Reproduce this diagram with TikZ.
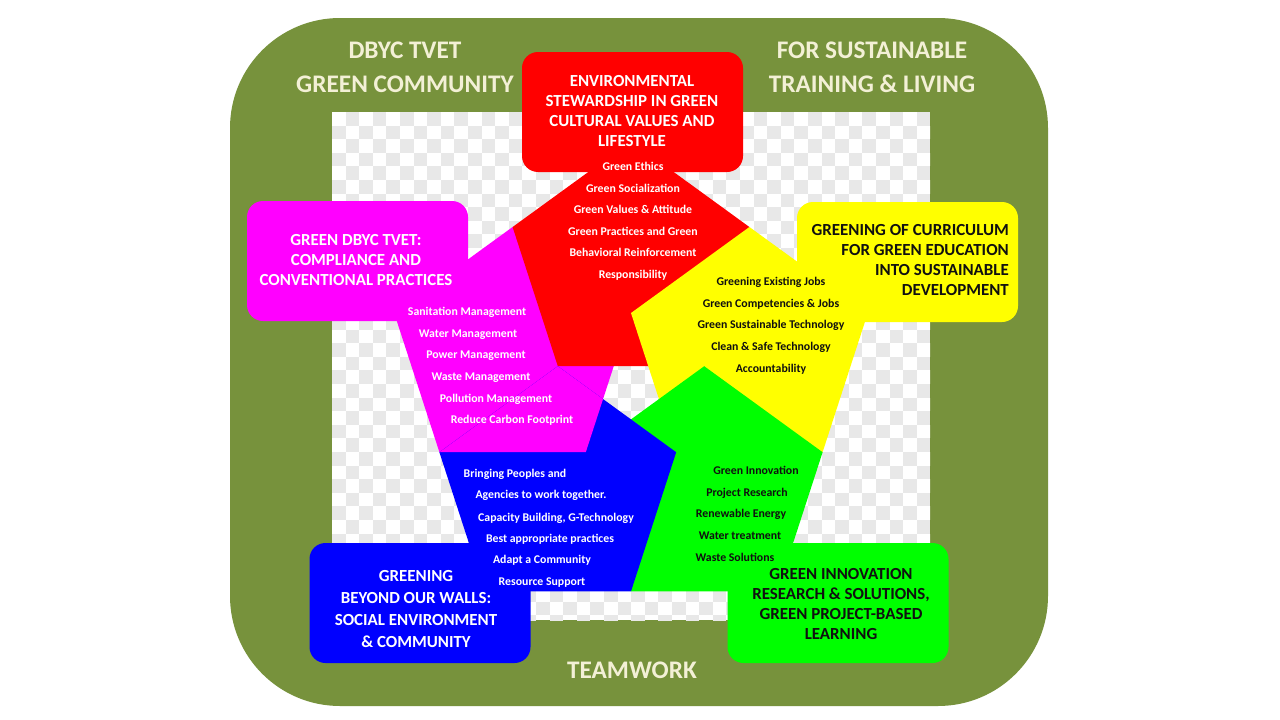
\documentclass[tikz,border=0pt]{standalone}
\usepackage{fontspec}
\setmainfont{Carlito}
\usetikzlibrary{calc}
\definecolor{bgolive}{HTML}{77923C}
\definecolor{cream}{HTML}{F3F0D6}
\definecolor{chkgray}{HTML}{E8E8E8}
\definecolor{pred}{HTML}{FF0000}
\definecolor{pyellow}{HTML}{FFFF00}
\definecolor{pgreen}{HTML}{00FF00}
\definecolor{pblue}{HTML}{0000FF}
\definecolor{pmagenta}{HTML}{FF00FF}
\definecolor{darktext}{HTML}{101010}
\newcommand\pentpath[1]{($(#1)+(-90:124.5)$) -- ($(#1)+(-18:124.5)$) -- ($(#1)+(54:124.5)$) -- ($(#1)+(126:124.5)$) -- ($(#1)+(198:124.5)$) -- cycle}
\begin{document}
\begin{tikzpicture}[x=1pt,y=-1pt,
  hdrbox/.style={rectangle, rounded corners=16pt, draw=none, minimum width=221pt, minimum height=120pt, inner sep=0pt},
  hdrtxt/.style={font=\fontsize{16.9}{20}\selectfont\bfseries, align=center, inner sep=0pt},
  titletxt/.style={font=\fontsize{25.3}{34}\selectfont\bfseries, align=center, inner sep=0pt, text=cream},
  lst/.style={font=\fontsize{11.8}{14}\selectfont\bfseries, inner sep=0pt, anchor=base}]
\useasboundingbox (0,0) rectangle (1280,720);
\fill[white] (0,0) rectangle (1280,720);
% olive frame
\fill[bgolive, rounded corners=110pt] (230,18) rectangle (1048,706);
% checker area
\begin{scope}
\clip (332,112) rectangle (930,620);
\fill[white] (332,112) rectangle (930,620);
\foreach \j in {0,...,37}{
  \pgfmathtruncatemacro\off{mod(\j,2)}
  \foreach \i in {0,2,...,44}{
    \fill[chkgray] ({332+(\i+1-\off)*13.6},{112+\j*13.6}) rectangle ++(13.6,13.6);
  }
}
\end{scope}
% pentagon centres
\coordinate (cred) at (631,265.5);
\coordinate (cyel) at (749.4,351.5);
\coordinate (cgrn) at (704.2,490.7);
\coordinate (cblu) at (557.8,490.7);
\coordinate (cmag) at (512.6,351.5);
% pentagons (cyclic overlap)
\fill[pmagenta] \pentpath{cmag};
\fill[pred] \pentpath{cred};
\fill[pyellow] \pentpath{cyel};
\fill[pgreen] \pentpath{cgrn};
\fill[pblue] \pentpath{cblu};
\begin{scope}
\clip \pentpath{cblu};
\fill[pmagenta] \pentpath{cmag};
\end{scope}
% header boxes
\node[hdrbox, fill=pred] (hred) at (632.5,112) {};
\node[hdrbox, fill=pyellow] (hyel) at (907.5,262) {};
\node[hdrbox, fill=pmagenta] (hmag) at (357.5,261) {};
\node[hdrbox, fill=pblue] (hblu) at (420,603) {};
\node[hdrbox, fill=pgreen] (hgrn) at (838,603) {};
% header texts
\node[hdrtxt, text=white] (tred) at (632,111) {ENVIRONMENTAL\\STEWARDSHIP IN GREEN\\CULTURAL VALUES AND\\LIFESTYLE};
\node[hdrtxt, text=darktext, align=right, anchor=east] (tyel) at (1009,260) {GREENING OF CURRICULUM\\FOR GREEN EDUCATION\\INTO SUSTAINABLE\\DEVELOPMENT};
\node[hdrtxt, text=white] (tmag) at (356,260) {GREEN DBYC TVET:\\COMPLIANCE AND\\CONVENTIONAL PRACTICES};
\node[hdrtxt, text=white, font=\fontsize{16.9}{22}\selectfont\bfseries] (tblu) at (416,609) {GREENING\\BEYOND OUR WALLS:\\SOCIAL ENVIRONMENT\\\& COMMUNITY};
\node[hdrtxt, text=darktext] (tgrn) at (841,604) {GREEN INNOVATION\\RESEARCH \& SOLUTIONS,\\GREEN PROJECT-BASED\\LEARNING};
% titles on frame
\node[titletxt] (t1) at (405,67) {DBYC TVET\\GREEN COMMUNITY};
\node[titletxt] (t2) at (872,67) {FOR SUSTAINABLE\\TRAINING \& LIVING};
\node[titletxt] (t3) at (632,670) {TEAMWORK};
% red list
\node[lst, text=white] (r1) at (633,170) {Green Ethics};
\node[lst, text=white] (r2) at (633,192) {Green Socialization};
\node[lst, text=white] (r3) at (633,213) {Green Values \& Attitude};
\node[lst, text=white] (r4) at (633,235) {Green Practices and Green};
\node[lst, text=white] (r5) at (633,256) {Behavioral Reinforcement};
\node[lst, text=white] (r6) at (633,278) {Responsibility};
% yellow list
\node[lst, text=darktext] (y1) at (771,285) {Greening Existing Jobs};
\node[lst, text=darktext] (y2) at (771,307) {Green Competencies \& Jobs};
\node[lst, text=darktext] (y3) at (771,328) {Green Sustainable Technology};
\node[lst, text=darktext] (y4) at (771,350) {Clean \& Safe Technology};
\node[lst, text=darktext] (y5) at (771,372) {Accountability};
% magenta list
\node[lst, text=white] (m1) at (467,315) {Sanitation Management};
\node[lst, text=white] (m2) at (468,337) {Water Management};
\node[lst, text=white] (m3) at (476,358) {Power Management};
\node[lst, text=white] (m4) at (481,380) {Waste Management};
\node[lst, text=white] (m5) at (496,402) {Pollution Management};
\node[lst, text=white] (m6) at (512,423) {Reduce Carbon Footprint};
% blue list
\node[lst, text=white] (b1) at (515,477) {Bringing Peoples and};
\node[lst, text=white] (b2) at (541,498) {Agencies to work together.};
\node[lst, text=white] (b3) at (556,521) {Capacity Building, G-Technology};
\node[lst, text=white] (b4) at (550,542) {Best appropriate practices};
\node[lst, text=white] (b5) at (542,563) {Adapt a Community};
\node[lst, text=white] (b6) at (542,585) {Resource Support};
% green list
\node[lst, text=darktext] (g1) at (756,474) {Green Innovation};
\node[lst, text=darktext] (g2) at (747,496) {Project Research};
\node[lst, text=darktext] (g3) at (741,517) {Renewable Energy};
\node[lst, text=darktext] (g4) at (740,539) {Water treatment};
\node[lst, text=darktext] (g5) at (735,561) {Waste Solutions};
\end{tikzpicture}
\end{document}
